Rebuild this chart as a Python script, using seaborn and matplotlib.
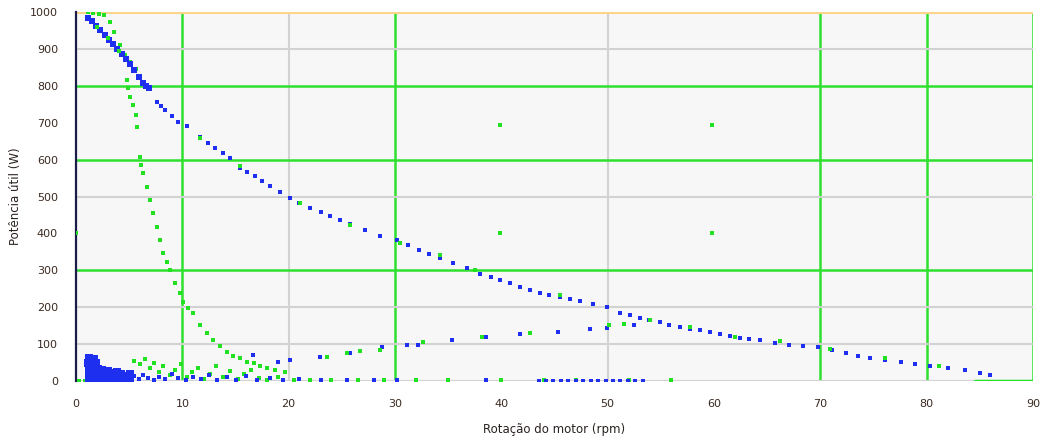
import matplotlib
matplotlib.use("Agg")
import matplotlib.pyplot as plt
import seaborn as sns
import pandas as pd

# ---- data -------------------------------------------------------------
x_ticks = [0, 10, 20, 30, 40, 50, 60, 70, 80, 90]
y_ticks = [0, 100, 200, 300, 400, 500, 600, 700, 800, 900, 1000]

# blue series: start of the descending curve (dense)
blue_head_x = [1.1, 1.5, 1.9, 2.3, 2.7, 3.1, 3.5, 3.9, 4.3, 4.7, 5.1, 5.5, 5.9, 6.3,
               6.6, 6.9]
blue_head_y = [984, 975, 963, 950, 938, 925, 912, 899, 887, 872, 858, 843, 825, 808,
               800, 795]

# blue series: rest of the descending curve
blue_main_x = [7.6, 8.0, 8.4, 9.0, 9.6, 10.4, 11.7, 12.4, 13.1, 13.8,
               14.5, 15.4, 16.1, 16.8, 17.5, 18.2, 19.2, 20.1, 21.0, 22.0, 23.0,
               23.9, 24.8, 25.8, 27.2, 28.6, 30.2, 31.2, 32.3, 33.2, 34.2, 35.5,
               36.8, 38.0, 39.0, 39.9, 40.8, 41.8, 42.7, 43.6, 44.5, 45.5, 46.5,
               47.4, 48.6, 49.9, 51.2, 52.1, 53.0, 53.9, 54.9, 55.8, 56.8, 57.7,
               58.7, 59.6, 60.6, 61.5, 62.4, 63.3, 64.3, 65.7, 67.1, 68.4, 69.8,
               71.1, 72.4, 73.5, 74.7, 76.1, 77.6, 78.9, 80.3, 82.0, 83.6, 85.0,
               86.0]
blue_main_y = [756, 745, 734, 718, 702, 691, 661, 646, 631, 617,
               604, 577, 566, 556, 542, 528, 512, 496, 482, 469, 458,
               447, 436, 425, 408, 393, 382, 368, 355, 344, 333, 319,
               306, 290, 282, 274, 265, 255, 246, 238, 233, 228, 222,
               217, 209, 201, 184, 178, 171, 166, 160, 153, 146, 142,
               138, 132, 127, 122, 117, 114, 111, 104, 98, 95, 92,
               84, 76, 69, 62, 57, 51, 46, 41, 35, 30, 22,
               16]

# blue series: lower rising branch
blue_low_x = [16.6, 19.0, 20.1, 22.9, 25.8, 28.8, 31.1, 32.2, 35.4, 38.6, 41.8,
              45.3, 48.3, 49.9, 52.5]
blue_low_y = [70, 51, 57, 65, 76, 92, 98, 98, 111, 119, 127,
              133, 141, 144, 152]

# blue series: low-value cluster at small x
blue_blob_x = [1.2, 1.4, 1.7, 1.9, 1.3, 1.6, 1.9, 1.2, 1.5, 1.8, 1.2, 1.5, 1.8,
               1.1, 1.4, 1.7, 1.2, 1.5, 1.8, 1.3, 1.6,
               2.1, 2.1, 2.1, 2.1, 2.4, 2.4, 2.4, 2.4, 2.7, 2.7, 2.7, 2.7,
               3.0, 3.0, 3.0, 3.0, 3.3, 3.3, 3.3, 3.6, 3.6, 3.6, 3.9, 3.9, 3.9,
               4.2, 4.2, 4.2, 4.5, 4.5, 4.8, 4.8, 5.1, 5.1]
blue_blob_y = [62, 55, 60, 48, 40, 35, 30, 20, 15, 22, 5, 8, 3,
               50, 45, 40, 28, 25, 12, 12, 2,
               3, 12, 22, 32, 4, 12, 20, 30, 3, 10, 18, 26,
               3, 10, 18, 28, 4, 12, 20, 3, 12, 22, 4, 12, 24,
               3, 12, 20, 4, 14, 3, 12, 8, 20]

# blue series: scattered low values
blue_floor_x = [5.5, 5.9, 6.3, 6.8, 7.3, 7.8, 8.4, 9.0, 9.6, 10.3, 11.0,
                11.8, 12.5, 13.3, 14.2, 15.0, 16.0, 17.0, 18.2, 19.5, 21.0, 23.0,
                25.5, 28.0, 30.2, 38.6, 43.5, 44.2, 44.9, 45.6, 46.3, 47.0, 47.7,
                48.4, 49.1, 49.8, 50.5, 51.2, 51.9, 52.6, 53.3]
blue_floor_y = [14, 6, 16, 8, 3, 12, 5, 18, 8, 3, 12,
                5, 16, 3, 10, 4, 14, 3, 8, 3, 5, 2,
                3, 2, 3, 3, 1, 1, 1, 1, 1, 1, 1,
                1, 1, 1, 1, 1, 1, 1, 1]

# green series: upper loop and steep descent
green_top_x = [1.1, 1.6, 2.2, 2.6, 3.2, 3.6, 4.1, 4.6, 5.1, 5.6,
               4.8, 4.9, 5.1, 5.4, 5.6, 5.7, 6.0, 6.1, 6.3, 6.7, 7.0, 7.2,
               7.6, 7.9, 8.2, 8.6, 8.8, 9.3, 9.8, 10.1, 10.5, 11.0, 11.7,
               12.3, 12.9, 13.5, 14.2, 14.8, 15.4, 16.1, 16.7, 17.3, 18.0,
               18.7, 19.7]
green_top_y = [1000, 997, 995, 992, 973, 946, 911, 884, 865, 845,
               816, 794, 770, 748, 721, 688, 607, 585, 564, 526, 491, 455,
               417, 382, 347, 322, 301, 266, 238, 214, 198, 184, 152,
               130, 111, 95, 79, 68, 62, 51, 49, 41, 35,
               30, 24]

# green series: points along the main curve and the rising branch
green_mid_x = [2.0, 3.0, 4.0, 11.7, 15.4, 21.1, 25.8, 30.5, 34.2, 37.5, 45.5,
               54.0, 57.7, 62.0, 66.2, 70.9, 76.1, 81.2,
               23.6, 25.5, 26.7, 28.6, 32.6, 38.2, 42.7, 50.1, 51.5]
green_mid_y = [960, 930, 895, 659, 583, 482, 423, 374, 341, 301, 233,
               165, 146, 119, 108, 87, 62, 41,
               65, 76, 81, 84, 106, 119, 130, 152, 155]

# green series: isolated readings
green_iso_x = [0.0, 39.9, 59.8, 39.9, 59.8]
green_iso_y = [401, 694, 694, 401, 401]

# green series: low-value scatter
green_base_x = [0.3, 0.8, 5.5, 6.0, 6.5, 7.0, 7.3, 7.8, 8.2, 8.8, 9.3, 9.9, 10.4,
                10.9, 11.5, 12.0, 12.6, 13.2, 13.8, 14.5, 15.2, 15.8, 16.5,
                17.2, 18.0, 19.0, 20.5, 22.0, 24.0, 26.5, 29.0, 32.0, 35.0,
                40.0, 44.0, 47.0, 52.0, 56.0]
green_base_y = [0, 0, 55, 45, 60, 35, 50, 25, 40, 15, 30, 45, 10,
                25, 35, 5, 20, 40, 12, 28, 5, 18, 30,
                8, 3, 12, 3, 3, 3, 2, 2, 2, 2,
                2, 2, 2, 2, 2]

# green series: zero tail at high x
green_tail_x = [84.5, 90.0]
green_tail_y = [0, 0]

# reference grid lines
x_grid = [10, 20, 30, 50, 70, 80, 90]
x_grid_kind = ["major", "minor", "major", "minor", "major", "major", "major"]
y_grid = [0, 100, 200, 300, 500, 600, 800, 900]
y_grid_kind = ["minor", "minor", "minor", "major", "minor", "major", "major", "minor"]

# ---- style ------------------------------------------------------------
BLUE = "#1f2ff0"
NAVY = "#1a1a9a"
GREEN = "#22e022"
GRID_MAJOR = "#2fe02f"
GRID_MINOR = "#d2d2d2"

sns.set_style("white", {"axes.facecolor": "#f7f7f7"})
plt.rcParams["font.family"] = ["DejaVu Sans"]

fig = plt.figure(figsize=(10.49, 4.46), dpi=100)
ax = fig.add_axes([76 / 1049, 1 - 381 / 446, (1033 - 76) / 1049, (381 - 12) / 446])

for xv, kind in zip(x_grid, x_grid_kind):
    ax.axvline(xv, color=GRID_MAJOR if kind == "major" else GRID_MINOR,
               lw=1.8 if kind == "major" else 1.5, zorder=0.5)
for yv, kind in zip(y_grid, y_grid_kind):
    ax.axhline(yv, color=GRID_MAJOR if kind == "major" else GRID_MINOR,
               lw=1.8 if kind == "major" else 1.5, zorder=0.5)
ax.axhline(1000, color="#ffd58a", lw=2.2, zorder=0.6)

def pts(xs, ys):
    return pd.DataFrame({"x": xs, "y": ys})

sns.scatterplot(data=pts(green_top_x, green_top_y), x="x", y="y", ax=ax,
                color=GREEN, marker="s", s=8, linewidth=0, zorder=3)
sns.scatterplot(data=pts(green_base_x, green_base_y), x="x", y="y", ax=ax,
                color=GREEN, marker="s", s=9, linewidth=0, zorder=3)
sns.scatterplot(data=pts(blue_blob_x, blue_blob_y), x="x", y="y", ax=ax,
                color=BLUE, marker="s", s=28, linewidth=0, zorder=4)
sns.scatterplot(data=pts(blue_floor_x, blue_floor_y), x="x", y="y", ax=ax,
                color=BLUE, marker="s", s=9, linewidth=0, zorder=4)
sns.scatterplot(data=pts(blue_head_x, blue_head_y), x="x", y="y", ax=ax,
                color=BLUE, marker="s", s=14, linewidth=0, zorder=4)
sns.scatterplot(data=pts(blue_main_x, blue_main_y), x="x", y="y", ax=ax,
                color=BLUE, marker="s", s=7, linewidth=0, zorder=4)
sns.scatterplot(data=pts(blue_low_x, blue_low_y), x="x", y="y", ax=ax,
                color=BLUE, marker="s", s=6, linewidth=0, zorder=4)
sns.scatterplot(data=pts(green_mid_x, green_mid_y), x="x", y="y", ax=ax,
                color=GREEN, marker="s", s=5, linewidth=0, zorder=5)
sns.scatterplot(data=pts(green_iso_x, green_iso_y), x="x", y="y", ax=ax,
                color=GREEN, marker="s", s=5, linewidth=0, zorder=5)
sns.lineplot(data=pts(green_tail_x, green_tail_y), x="x", y="y", ax=ax,
             color=GREEN, lw=2.5, zorder=5)

ax.set_xlim(0, 90)
ax.set_ylim(0, 1000)
ax.set_xticks(x_ticks)
ax.set_yticks(y_ticks)
ax.set_xticklabels([str(v) for v in x_ticks], fontsize=8, color="#3a2a20")
ax.set_yticklabels([str(v) for v in y_ticks], fontsize=8, color="#3a2a20")
ax.tick_params(axis="both", direction="out", length=5, width=1.3, color="#111111",
               pad=8)
ax.set_xlabel("Rotação do motor (rpm)", fontsize=8.5, color="#2a2020", labelpad=10)
ax.set_ylabel("Potência útil (W)", fontsize=8.5, color="#2a2020", labelpad=6)

for side in ["top", "right", "bottom"]:
    ax.spines[side].set_visible(False)
ax.spines["left"].set_color("#1c1c4a")
ax.spines["left"].set_linewidth(1.6)

fig.savefig("out.png", dpi=100)
